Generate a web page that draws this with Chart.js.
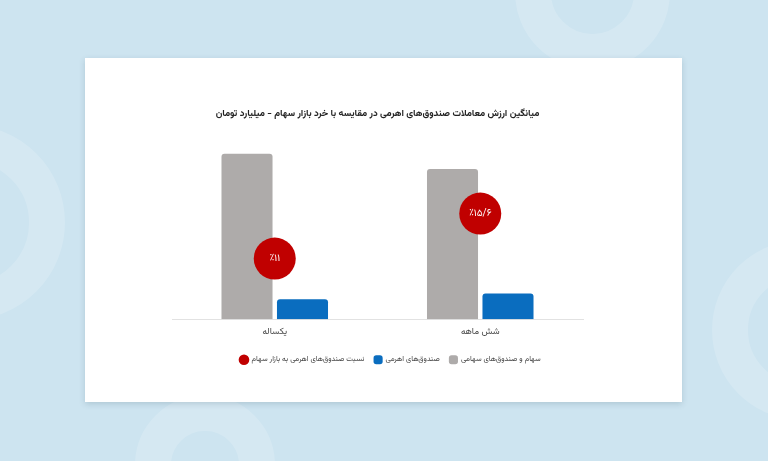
<!DOCTYPE html>
<html lang="fa">
<head>
<meta charset="utf-8">
<title>میانگین ارزش معاملات صندوق‌های اهرمی</title>
<script src="https://cdn.jsdelivr.net/npm/chart.js@4.4.1/dist/chart.umd.min.js"></script>
<style>
  html, body { margin: 0; padding: 0; }
  body {
    width: 768px; height: 461px; overflow: hidden; position: relative;
    background: #cde4f0;
  }
  .ring {
    position: absolute; border-radius: 50%;
    border: 36px solid rgba(255, 255, 255, 0.16);
    box-sizing: border-box;
  }
  .card {
    position: absolute; left: 85px; top: 58px; width: 597px; height: 344px;
    background: #fff; box-shadow: 0 2px 6px rgba(40, 70, 90, 0.18);
  }
  .card canvas { display: block; }
</style>
</head>
<body>
<div class="ring" style="left:-130px; top:125px; width:195px; height:195px;"></div>
<div class="ring" style="left:515px; top:-85px; width:155px; height:155px;"></div>
<div class="ring" style="left:712px; top:240px; width:180px; height:180px;"></div>
<div class="ring" style="left:135px; top:395px; width:140px; height:140px;"></div>

<div class="card"><canvas id="chart" width="597" height="344"></canvas></div>

<script>
// data
const categories = ["یکساله", "شش ماهه"];
const stockValues = [5400, 4900];      // سهام و صندوق‌های سهامی
const leveragedValues = [650, 840];    // صندوق‌های اهرمی
const sharePercent = [11, 15.6];       // نسبت صندوق‌های اهرمی به بازار سهام
const shareLabels = ["٪۱۱", "٪۱۵/۶"];

const titleText = "میانگین ارزش معاملات صندوق‌های اهرمی در مقایسه با خرد بازار سهام - میلیارد تومان";
const fontFamily = "Vazirmatn, 'DejaVu Sans', sans-serif";

// white percentage text inside the red circles
const circleLabels = {
    id: "circleLabels",
    afterDatasetsDraw(chart) {
        const meta = chart.getDatasetMeta(2);
        const ctx = chart.ctx;
        ctx.save();
        ctx.fillStyle = "#ffffff";
        ctx.font = "10px " + fontFamily;
        ctx.textAlign = "center";
        ctx.textBaseline = "middle";
        meta.data.forEach((pt, i) => {
            ctx.fillText(shareLabels[i], pt.x, pt.y + 1);
        });
        ctx.restore();
    },
};

// the legend in the picture sits a bit right of the plot centre
const legendShift = {
    id: "legendShift",
    afterLayout(chart) {
        chart.legend.left += 13;
        chart.legend.right += 13;
    },
};

new Chart(document.getElementById("chart"), {
    type: "bar",
    data: {
        labels: categories,
        datasets: [
            {
                label: "سهام و صندوق‌های سهامی",
                data: stockValues,
                backgroundColor: "#aeabaa",
                borderRadius: 3,
                pointStyle: "rectRounded",
            },
            {
                label: "صندوق‌های اهرمی",
                data: leveragedValues,
                backgroundColor: "#0a6dbf",
                borderRadius: 3,
                pointStyle: "rectRounded",
            },
            {
                type: "line",
                label: "نسبت صندوق‌های اهرمی به بازار سهام",
                data: sharePercent,
                yAxisID: "y2",
                showLine: false,
                order: -1,
                pointStyle: "circle",
                pointRadius: 21,
                pointHoverRadius: 21,
                pointBackgroundColor: "#c00000",
                pointBorderWidth: 0,
                backgroundColor: "#c00000",
                borderColor: "#c00000",
            },
        ],
    },
    options: {
        responsive: false,
        animation: false,
        datasets: {
            bar: { categoryPercentage: 0.54, barPercentage: 0.92 },
        },
        layout: { padding: { left: 87, right: 99, top: 0, bottom: 28.5 } },
        scales: {
            x: {
                grid: { display: false, drawTicks: false },
                border: { color: "#e2e2e2", width: 1 },
                ticks: { color: "#444", padding: 8, font: { family: fontFamily, size: 9 } },
            },
            y: { display: false, min: 0, max: 6000 },
            y2: { display: false, min: 4.8, max: 23.6 },
        },
        plugins: {
            title: {
                display: true,
                text: titleText,
                color: "#222",
                font: { family: fontFamily, size: 9.5, weight: "bold" },
                padding: { top: 51, bottom: 15 },
            },
            legend: {
                position: "bottom",
                labels: {
                    usePointStyle: true,
                    boxWidth: 8,
                    boxHeight: 8,
                    padding: 10,
                    color: "#444",
                    font: { family: fontFamily, size: 7.5 },
                    sort: (a, b) => b.datasetIndex - a.datasetIndex,
                },
            },
            tooltip: { enabled: false },
        },
    },
    plugins: [circleLabels, legendShift],
});
</script>
</body>
</html>
